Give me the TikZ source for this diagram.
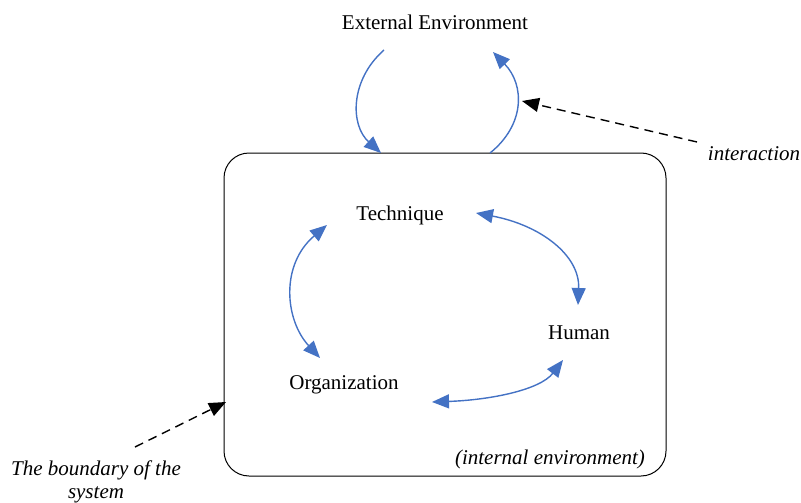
\documentclass[tikz,border=0pt]{standalone}
\usepackage{fontspec}
\setmainfont{Liberation Serif}
\usetikzlibrary{arrows.meta}
\definecolor{linkblue}{RGB}{68,114,196}
\tikzset{
  lbl/.style={font=\fontsize{21}{25}\selectfont, inner sep=0pt},
  note/.style={lbl, font=\fontsize{21}{25}\selectfont\itshape},
  flow/.style={linkblue, line width=1.4pt, -{Triangle[length=17pt,width=14pt]}},
  twoway/.style={flow, {Triangle[length=17pt,width=14pt]}-{Triangle[length=17pt,width=14pt]}},
  hint/.style={black, line width=1.4pt, dash pattern=on 9pt off 6pt, -{Triangle[length=17pt,width=14pt]}}
}
\begin{document}
\begin{tikzpicture}[x=1pt,y=-1pt]
   \path[use as bounding box] (0,0) rectangle (801,503);
   \draw[line width=1pt, rounded corners=25pt] (224,153) rectangle (666,476);
   \node[lbl] (env)  at (435,22)  {External Environment};
   \node[lbl] (tech) at (400,215) {Technique};
   \node[lbl] (hum)  at (579,333) {Human};
   \node[lbl] (org)  at (344,385) {Organization};
   \node[note] (inter) at (754,154) {interaction};
   \node[note, align=center, font=\fontsize{21}{23}\selectfont\itshape] (bound) at (96,482) {The boundary of the\\system};
   \node[note] (inner) at (550,459) {(internal environment)};
   % arrows with the outside
   \coordinate (in1) at (384,50);  \coordinate (in2) at (381,153);
   \coordinate (out1) at (490,153); \coordinate (out2) at (493,52);
   \draw[flow] (in1) .. controls (350,80) and (350,125) .. (in2);
   \draw[flow] (out1) .. controls (525,125) and (525,85) .. (out2);
   % arrows inside
   \coordinate (th1) at (476,213); \coordinate (th2) at (578,305);
   \coordinate (to1) at (327,225); \coordinate (to2) at (320,358);
   \coordinate (oh1) at (432,402); \coordinate (oh2) at (563,360);
   \draw[twoway] (th1) .. controls (540,225) and (580,255) .. (th2);
   \draw[twoway] (to1) .. controls (280,265) and (285,320) .. (to2);
   \draw[twoway] (oh1) .. controls (490,400) and (540,390) .. (oh2);
   % dashed pointers
   \coordinate (p1) at (697,142); \coordinate (p2) at (522,101);
   \coordinate (q1) at (135,447); \coordinate (q2) at (226,402);
   \draw[hint] (p1) -- (p2);
   \draw[hint] (q1) -- (q2);
 \end{tikzpicture}
\end{document}
